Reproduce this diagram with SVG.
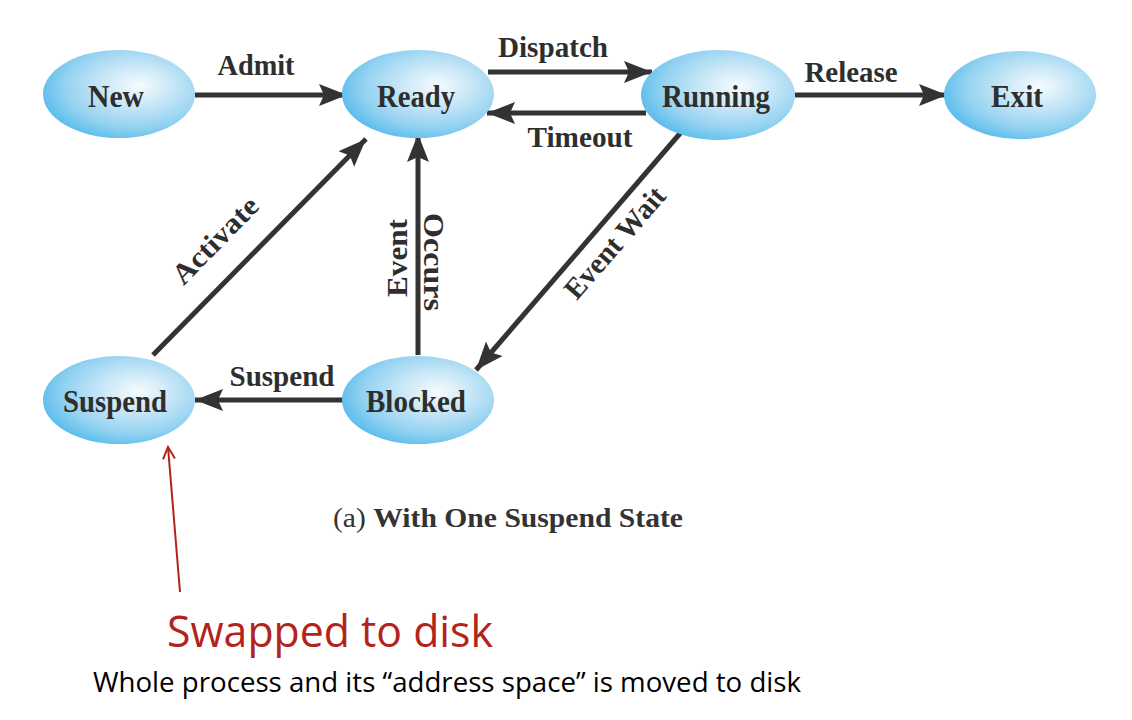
<svg xmlns="http://www.w3.org/2000/svg" width="1132" height="720" viewBox="0 0 1132 720">
<defs>
<radialGradient id="blob" cx="0.6" cy="0.42" r="0.62" fx="0.63" fy="0.4">
<stop offset="0" stop-color="#F6FBFE"/>
<stop offset="0.3" stop-color="#D2EBF8"/>
<stop offset="0.75" stop-color="#94D2F1"/>
<stop offset="1" stop-color="#5EBEEC"/>
</radialGradient>
<marker id="ah" markerUnits="userSpaceOnUse" markerWidth="30" markerHeight="24" refX="28" refY="12" orient="auto">
<path d="M0,1 L28,12 L0,23 L5,12 Z" fill="#333"/>
</marker>
<marker id="red" markerUnits="userSpaceOnUse" markerWidth="16" markerHeight="16" refX="14" refY="8" orient="auto">
<path d="M2,2 L14,8 L2,14" fill="none" stroke="#B3231C" stroke-width="2"/>
</marker>
<style>
.node ellipse{fill:url(#blob);}
.nt{font-family:"Liberation Serif","Times New Roman",serif;font-weight:bold;font-size:32px;fill:#2e2e2e;text-anchor:middle;}
.lb{font-family:"Liberation Serif","Times New Roman",serif;font-weight:bold;font-size:29px;fill:#2e2e2e;text-anchor:middle;}
.edge{stroke:#333;stroke-width:5;fill:none;marker-end:url(#ah);}
</style>
</defs>
<rect width="1132" height="720" fill="#fff"/>
<g id="connectors">
<line class="edge" x1="195" y1="95" x2="347" y2="95"/>
<line class="edge" x1="488" y1="72" x2="652" y2="72"/>
<line class="edge" x1="646" y1="113" x2="487" y2="113"/>
<line class="edge" x1="795" y1="95" x2="947" y2="95"/>
<line class="edge" x1="153" y1="355" x2="366" y2="139"/>
<line class="edge" x1="418" y1="355" x2="418" y2="134"/>
<line class="edge" x1="683" y1="130" x2="476" y2="370"/>
<line class="edge" x1="345" y1="400" x2="195" y2="400"/>
<line x1="180" y1="592" x2="168" y2="447" stroke="#B3231C" stroke-width="2" marker-end="url(#red)"/>
</g>
<g id="edge-labels">
<text class="lb" x="256" y="75" textLength="77" lengthAdjust="spacingAndGlyphs">Admit</text>
<text class="lb" x="553" y="57" textLength="110" lengthAdjust="spacingAndGlyphs">Dispatch</text>
<text class="lb" x="580" y="147" textLength="105" lengthAdjust="spacingAndGlyphs">Timeout</text>
<text class="lb" x="851" y="82" textLength="93" lengthAdjust="spacingAndGlyphs">Release</text>
<text class="lb" x="282" y="386" textLength="105" lengthAdjust="spacingAndGlyphs">Suspend</text>
<text class="lb" transform="translate(222,247) rotate(-45.5)" textLength="110" lengthAdjust="spacingAndGlyphs">Activate</text>
<text class="lb" transform="translate(407,258) rotate(-90)" textLength="78" lengthAdjust="spacingAndGlyphs">Event</text>
<text class="lb" transform="translate(424,262) rotate(90)" textLength="98" lengthAdjust="spacingAndGlyphs">Occurs</text>
<text class="lb" transform="translate(622,249) rotate(-49)" textLength="138" lengthAdjust="spacingAndGlyphs">Event Wait</text>
</g>
<g id="node-new" class="node"><ellipse cx="119" cy="94" rx="76" ry="44"/><text class="nt" x="116" y="107" textLength="56" lengthAdjust="spacingAndGlyphs">New</text></g>
<g id="node-ready" class="node"><ellipse cx="418" cy="94" rx="76" ry="44"/><text class="nt" x="416" y="107" textLength="78" lengthAdjust="spacingAndGlyphs">Ready</text></g>
<g id="node-running" class="node"><ellipse cx="718" cy="95" rx="77" ry="45"/><text class="nt" x="716" y="107" textLength="108" lengthAdjust="spacingAndGlyphs">Running</text></g>
<g id="node-exit" class="node"><ellipse cx="1020" cy="95" rx="76" ry="44"/><text class="nt" x="1017" y="107" textLength="52" lengthAdjust="spacingAndGlyphs">Exit</text></g>
<g id="node-suspend" class="node"><ellipse cx="119" cy="400" rx="76" ry="44"/><text class="nt" x="115" y="412" textLength="104" lengthAdjust="spacingAndGlyphs">Suspend</text></g>
<g id="node-blocked" class="node"><ellipse cx="418" cy="400" rx="76" ry="44"/><text class="nt" x="416" y="412" textLength="100" lengthAdjust="spacingAndGlyphs">Blocked</text></g>
<g id="captions">
<text x="508" y="527" font-family="Liberation Serif,Times New Roman,serif" font-size="28" fill="#333" text-anchor="middle" textLength="350" lengthAdjust="spacingAndGlyphs"><tspan>(a) </tspan><tspan font-weight="bold">With One Suspend State</tspan></text>
<text x="167" y="647" font-family="Open Sans,Noto Sans,sans-serif" font-size="43" fill="#B3231C" textLength="326" lengthAdjust="spacingAndGlyphs">Swapped to disk</text>
<text x="93" y="692" font-family="Open Sans,Noto Sans,sans-serif" font-size="28" fill="#000" textLength="708" lengthAdjust="spacingAndGlyphs">Whole process and its “address space” is moved to disk</text>
</g>
</svg>
